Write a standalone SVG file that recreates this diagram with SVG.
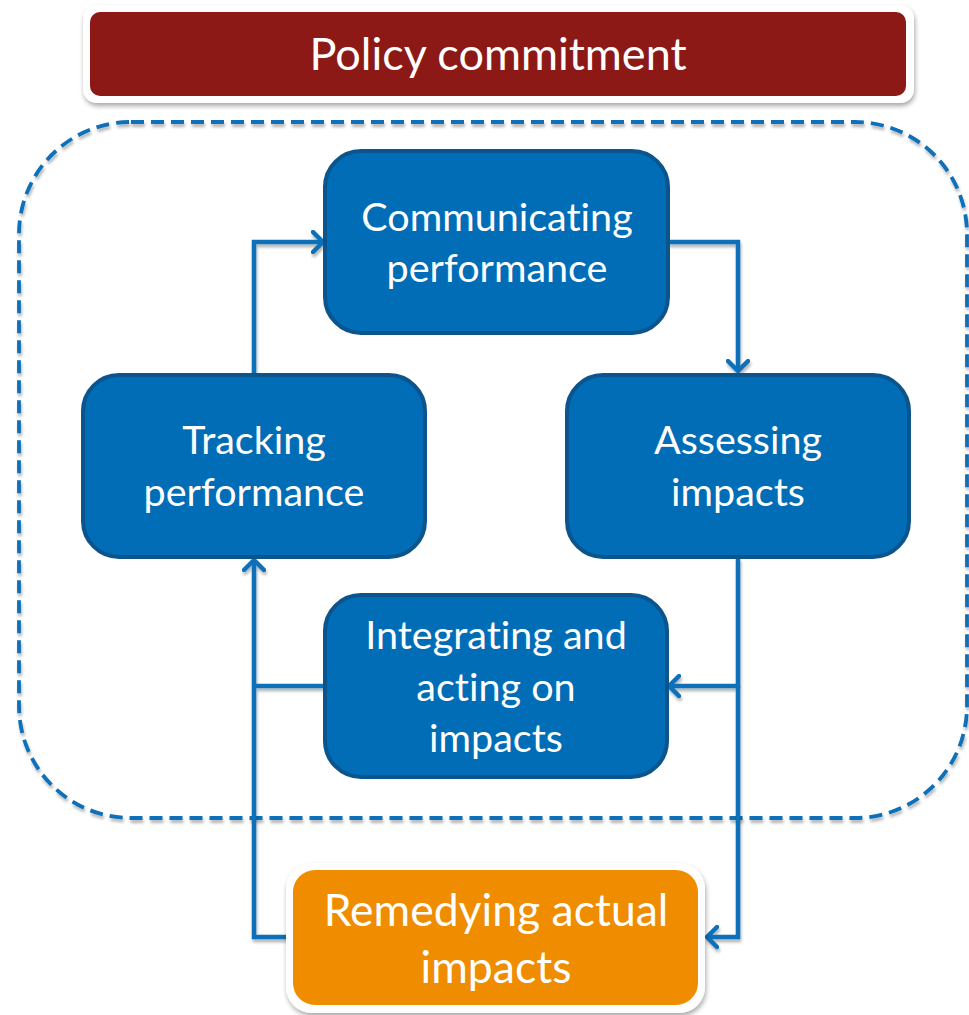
<svg xmlns="http://www.w3.org/2000/svg" width="969" height="1015" viewBox="0 0 969 1015">
  <defs>
    <filter id="soft" x="-10%" y="-10%" width="120%" height="130%">
      <feGaussianBlur in="SourceAlpha" stdDeviation="2.5"/>
      <feOffset dx="1" dy="3" result="b"/>
      <feComponentTransfer><feFuncA type="linear" slope="0.35"/></feComponentTransfer>
      <feMerge><feMergeNode/><feMergeNode in="SourceGraphic"/></feMerge>
    </filter>
    <filter id="lineShadow" x="-5%" y="-5%" width="110%" height="110%">
      <feGaussianBlur in="SourceAlpha" stdDeviation="1.5"/>
      <feOffset dx="1" dy="3" result="b"/>
      <feComponentTransfer><feFuncA type="linear" slope="0.3"/></feComponentTransfer>
      <feMerge><feMergeNode/><feMergeNode in="SourceGraphic"/></feMerge>
    </filter>
    <marker id="arrow" viewBox="0 0 14 24" refX="12" refY="12" markerWidth="14" markerHeight="24" markerUnits="userSpaceOnUse" orient="auto">
      <polyline points="2,2 12,12 2,22" fill="none" stroke="#0a6fb8" stroke-width="4.5" stroke-linecap="round" stroke-linejoin="round"/>
    </marker>
    <style>
      .box { fill: #006db6; stroke: #0b548c; stroke-width: 4; }
      .label { font-family: Lato, "Open Sans", "Liberation Sans", sans-serif; fill: #ffffff; text-anchor: middle; font-variant-ligatures: none; font-feature-settings: "liga" 0, "clig" 0; }
      .conn { fill: none; stroke: #0a6fb8; stroke-width: 4.5; stroke-linejoin: miter; }
    </style>
  </defs>

  <rect width="969" height="1015" fill="#ffffff"/>

  <!-- dashed scope boundary -->
  <g id="scope" filter="url(#lineShadow)">
    <rect x="19" y="122" width="948" height="696" rx="112" ry="112" fill="none" stroke="#0a6fb8" stroke-width="3.8" stroke-dasharray="13 7"/>
  </g>

  <!-- Policy commitment -->
  <g id="policy">
    <rect x="83" y="5" width="831" height="98" rx="14" fill="#ffffff" filter="url(#soft)"/>
    <rect x="90" y="12" width="816" height="84" rx="10" fill="#8c1915"/>
    <text class="label" x="498" y="70" font-size="45">Policy commitment</text>
  </g>

  <!-- connectors -->
  <g id="connectors" filter="url(#lineShadow)">
    <path class="conn" d="M254,375 V242 H323" marker-end="url(#arrow)"/>
    <path class="conn" d="M668,242 H738 V371" marker-end="url(#arrow)"/>
    <path class="conn" d="M738,558 V686 H669" marker-end="url(#arrow)"/>
    <path class="conn" d="M738,686 V937 H707" marker-end="url(#arrow)"/>
    <path class="conn" d="M325,686 H254"/>
    <path class="conn" d="M288,937 H254 V560" marker-end="url(#arrow)"/>
  </g>

  <!-- Communicating performance -->
  <g id="communicating">
    <rect class="box" x="325" y="151" width="343" height="182" rx="36"/>
    <text class="label" x="497" y="231" font-size="39.5">Communicating</text>
    <text class="label" x="497" y="282" font-size="39.5">performance</text>
  </g>

  <!-- Tracking performance -->
  <g id="tracking">
    <rect class="box" x="83" y="375" width="342" height="182" rx="36"/>
    <text class="label" x="254" y="454" font-size="39.5">Tracking</text>
    <text class="label" x="254" y="506" font-size="39.5">performance</text>
  </g>

  <!-- Assessing impacts -->
  <g id="assessing">
    <rect class="box" x="567" y="375" width="342" height="182" rx="36"/>
    <text class="label" x="738" y="454" font-size="39.5">Assessing</text>
    <text class="label" x="738" y="506" font-size="39.5">impacts</text>
  </g>

  <!-- Integrating and acting on impacts -->
  <g id="integrating">
    <rect class="box" x="325" y="595" width="342" height="182" rx="36"/>
    <text class="label" x="496" y="649" font-size="39.5">Integrating and</text>
    <text class="label" x="496" y="701" font-size="39.5">acting on</text>
    <text class="label" x="496" y="752" font-size="39.5">impacts</text>
  </g>

  <!-- Remedying actual impacts -->
  <g id="remedying">
    <rect x="286" y="863" width="419" height="150" rx="26" fill="#ffffff" filter="url(#soft)"/>
    <rect x="293" y="870" width="405" height="135" rx="22" fill="#ef8c00"/>
    <text class="label" x="496" y="926" font-size="44.5">Remedying actual</text>
    <text class="label" x="496" y="983" font-size="44.5">impacts</text>
  </g>
</svg>
